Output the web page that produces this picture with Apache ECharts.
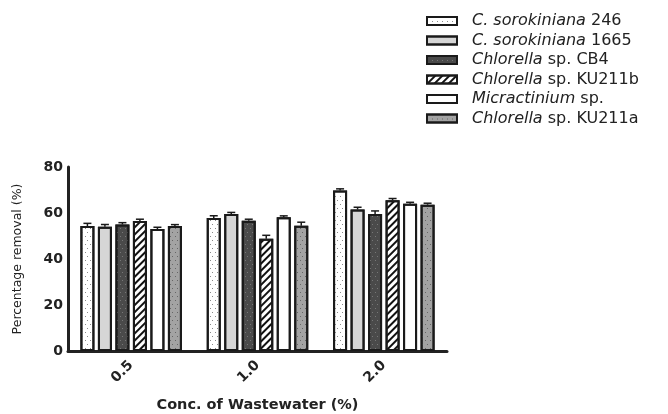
<!DOCTYPE html>
<html><head><meta charset="utf-8">
<script src="https://cdn.jsdelivr.net/npm/echarts@6/dist/echarts.min.js"></script>
<style>html,body{margin:0;padding:0;background:#fff}#c{width:668px;height:414px}</style>
</head><body><div id="c"></div>
<script>
var categories = ['0.5', '1.0', '2.0'];
var seriesNames = ['C. sorokiniana 246', 'C. sorokiniana 1665', 'Chlorella sp. CB4', 'Chlorella sp. KU211b', 'Micractinium sp.', 'Chlorella sp. KU211a'];
var legendRich = ['{s|}{i|C. sorokiniana} 246', '{s|}{i|C. sorokiniana} 1665', '{s|}{i|Chlorella} sp. CB4', '{s|}{i|Chlorella} sp. KU211b', '{s|}{i|Micractinium} sp.', '{s|}{i|Chlorella} sp. KU211a'];
var values = [
  [54.3, 57.8, 69.8],
  [54.0, 59.6, 61.5],
  [55.0, 56.6, 59.6],
  [56.5, 48.8, 65.5],
  [53.0, 58.1, 64.0],
  [54.3, 54.5, 63.6]
];
var errors = [
  [1.2, 1.0, 0.7],
  [1.0, 0.3, 1.0],
  [0.8, 0.7, 1.3],
  [0.8, 1.5, 0.8],
  [0.8, 0.0, 0.5],
  [0.3, 1.5, 0.6]
];
var yTicks = [0, 20, 40, 60, 80];

var fills = ['#ffffff', '#d6d6d6', '#4a4a4a', '#ffffff', '#ffffff', '#a3a3a3'];
var dotDecal = function (c) { return { symbol: 'rect', symbolSize: 1, dashArrayX: [[1, 4], [0, 2, 1, 2]], dashArrayY: [1, 3], color: c }; };
var decals = [
  dotDecal('#8a8a8a'),
  { symbol: 'none' },
  dotDecal('#777777'),
  { symbol: 'rect', symbolSize: 1, dashArrayX: [1, 0], dashArrayY: [2, 2.5], rotation: -Math.PI / 4, color: '#111' },
  { symbol: 'none' },
  dotDecal('#666666')
];

var BAR_W = 14, PITCH = 17.5;
var series = [];
seriesNames.forEach(function (n, i) {
  series.push({
    name: n, type: 'bar', barWidth: BAR_W, barGap: ((PITCH - BAR_W) / BAR_W * 100) + '%',
    data: values[i],
    itemStyle: { color: fills[i], borderColor: '#1a1a1a', borderWidth: 2, decal: decals[i] },
    emphasis: { disabled: true }
  });
});
seriesNames.forEach(function (n, i) {
  series.push({
    type: 'custom', z: 10, silent: true,
    data: values[i].map(function (v, k) { return [k, v, errors[i][k]]; }),
    renderItem: function (params, api) {
      var p0 = api.coord([api.value(0), api.value(1)]);
      var p1 = api.coord([api.value(0), api.value(1) + api.value(2)]);
      var x = p0[0] + (i - 2.5) * PITCH;
      var top = Math.min(p1[1], p0[1] - 1.5);
      return { type: 'group', children: [
        { type: 'line', shape: { x1: x, y1: p0[1], x2: x, y2: top }, style: { stroke: '#1a1a1a', lineWidth: 1.5 } },
        { type: 'line', shape: { x1: x - 4, y1: top, x2: x + 4, y2: top }, style: { stroke: '#1a1a1a', lineWidth: 1.5 } }
      ] };
    }
  });
});

var chart = echarts.init(document.getElementById('c'), null, { renderer: 'canvas' });
chart.setOption({
  animation: false,
  backgroundColor: '#fff',
  grid: { left: 68, right: 221, top: 167, bottom: 60, containLabel: false },
  legend: {
    data: seriesNames, orient: 'vertical', left: 421, top: 8,
    itemWidth: 30, itemHeight: 8, itemGap: 3.5, icon: 'rect',
    formatter: function (name) { return legendRich[seriesNames.indexOf(name)]; },
    textStyle: { fontFamily: 'DejaVu Sans', fontSize: 16, color: '#222',
      rich: { s: { width: 10 }, i: { fontStyle: 'italic', fontFamily: 'DejaVu Sans', fontSize: 16, color: '#222' } } }
  },
  xAxis: {
    type: 'category', data: categories,
    name: 'Conc. of Wastewater (%)', nameLocation: 'middle', nameGap: 47,
    nameTextStyle: { fontFamily: 'DejaVu Sans', fontWeight: 'bold', fontSize: 14.5, color: '#222' },
    axisLine: { lineStyle: { color: '#222', width: 3 } },
    axisTick: { show: false },
    axisLabel: { rotate: 45, margin: 12, fontFamily: 'DejaVu Sans', fontWeight: 'bold', fontSize: 14, color: '#222' }
  },
  yAxis: {
    type: 'value', min: 0, max: 80, interval: 20,
    name: 'Percentage removal (%)', nameLocation: 'middle', nameGap: 44,
    nameTextStyle: { fontFamily: 'DejaVu Sans', fontSize: 12.5, color: '#222' },
    axisLine: { show: true, lineStyle: { color: '#222', width: 3 } },
    axisTick: { show: false },
    splitLine: { show: false },
    axisLabel: { margin: 5, fontFamily: 'DejaVu Sans', fontWeight: 'bold', fontSize: 14, color: '#222',
      formatter: function (v) { return yTicks.indexOf(v) >= 0 ? String(v) : ''; } }
  },
  series: series
});
</script></body></html>
